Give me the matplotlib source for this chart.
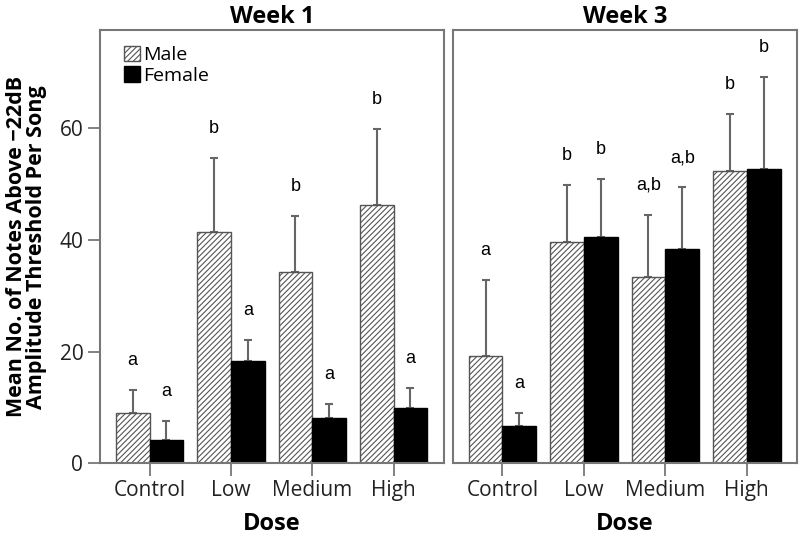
import numpy as np
import matplotlib
matplotlib.use("Agg")
import matplotlib.pyplot as plt

# data
doses = ["Control", "Low", "Medium", "High"]

w1_male = [9.1, 41.5, 34.3, 46.3]
w1_male_err = [4.0, 13.2, 9.9, 13.6]
w1_female = [4.1, 18.3, 8.1, 9.9]
w1_female_err = [3.4, 3.7, 2.5, 3.5]
w1_male_lbl = ["a", "b", "b", "b"]
w1_female_lbl = ["a", "a", "a", "a"]

w3_male = [19.2, 39.6, 33.3, 52.4]
w3_male_err = [13.6, 10.3, 11.2, 10.1]
w3_female = [6.7, 40.6, 38.4, 52.7]
w3_female_err = [2.3, 10.3, 11.0, 16.5]
w3_male_lbl = ["a", "b", "a,b", "b"]
w3_female_lbl = ["a", "b", "a,b", "b"]

plt.rcParams['font.family'] = ['Open Sans', 'DejaVu Sans']
plt.rcParams['hatch.color'] = '#808080'
plt.rcParams['hatch.linewidth'] = 0.8

fig = plt.figure(figsize=(8, 5.37), dpi=100)
ax1 = fig.add_axes([0.125, 0.1372, 0.43, 0.807])
ax2 = fig.add_axes([0.5659, 0.1372, 0.4308, 0.807])

x = np.arange(len(doses))
w = 0.415
spine_col = '#777777'
err_col = '#666666'


def draw_panel(ax, title, male, male_err, female, female_err, mlbl, flbl):
    ax.bar(x - w / 2, male, w, color='white', edgecolor='#555555',
           hatch='//////', linewidth=1.0, label='Male', zorder=2)
    ax.bar(x + w / 2, female, w, color='black', edgecolor='black',
           linewidth=1.0, label='Female', zorder=2)
    # upper error bars only
    ax.errorbar(x - w / 2, male, yerr=[np.zeros(4), male_err], fmt='none',
                ecolor=err_col, elinewidth=1.5, capsize=3, capthick=1.5, zorder=1)
    ax.errorbar(x + w / 2, female, yerr=[np.zeros(4), female_err], fmt='none',
                ecolor=err_col, elinewidth=1.5, capsize=3, capthick=1.5, zorder=1)
    for i in range(4):
        ax.text(x[i] - w / 2, male[i] + male_err[i] + 5.3, mlbl[i], ha='center',
                va='center', fontsize=13, family='Liberation Sans')
        ax.text(x[i] + w / 2, female[i] + female_err[i] + 5.3, flbl[i], ha='center',
                va='center', fontsize=13, family='Liberation Sans')

    ax.set_xlim(-0.61, 3.62)
    ax.set_ylim(0, 77.6)
    ax.set_xticks(x)
    ax.set_xticklabels(doses)
    ax.set_title(title, fontsize=17, fontweight='bold', pad=5)
    ax.set_xlabel('Dose', fontsize=17, fontweight='bold', labelpad=8)
    ax.tick_params(axis='both', labelsize=15, length=9, width=1.3,
                   color=spine_col, labelcolor='#222222', direction='out', pad=3)
    for s in ax.spines.values():
        s.set_color(spine_col)
        s.set_linewidth(1.5)


draw_panel(ax1, 'Week 1', w1_male, w1_male_err, w1_female, w1_female_err,
           w1_male_lbl, w1_female_lbl)
draw_panel(ax2, 'Week 3', w3_male, w3_male_err, w3_female, w3_female_err,
           w3_male_lbl, w3_female_lbl)

ax1.set_yticks([0, 20, 40, 60])
ax2.set_yticks([])
ax1.set_ylabel('Mean No. of Notes Above \u221222dB\nAmplitude Threshold Per Song',
               fontsize=15.5, fontweight='bold', linespacing=0.9)
ax1.yaxis.set_label_coords(-0.155, 0.5)

ax1.legend(loc='upper left', bbox_to_anchor=(0.03, 0.995), frameon=False,
           fontsize=14, handlelength=0.85, handleheight=0.85, handletextpad=0.15,
           labelspacing=0.1, borderaxespad=0.3)

fig.savefig('out.png', dpi=100)
